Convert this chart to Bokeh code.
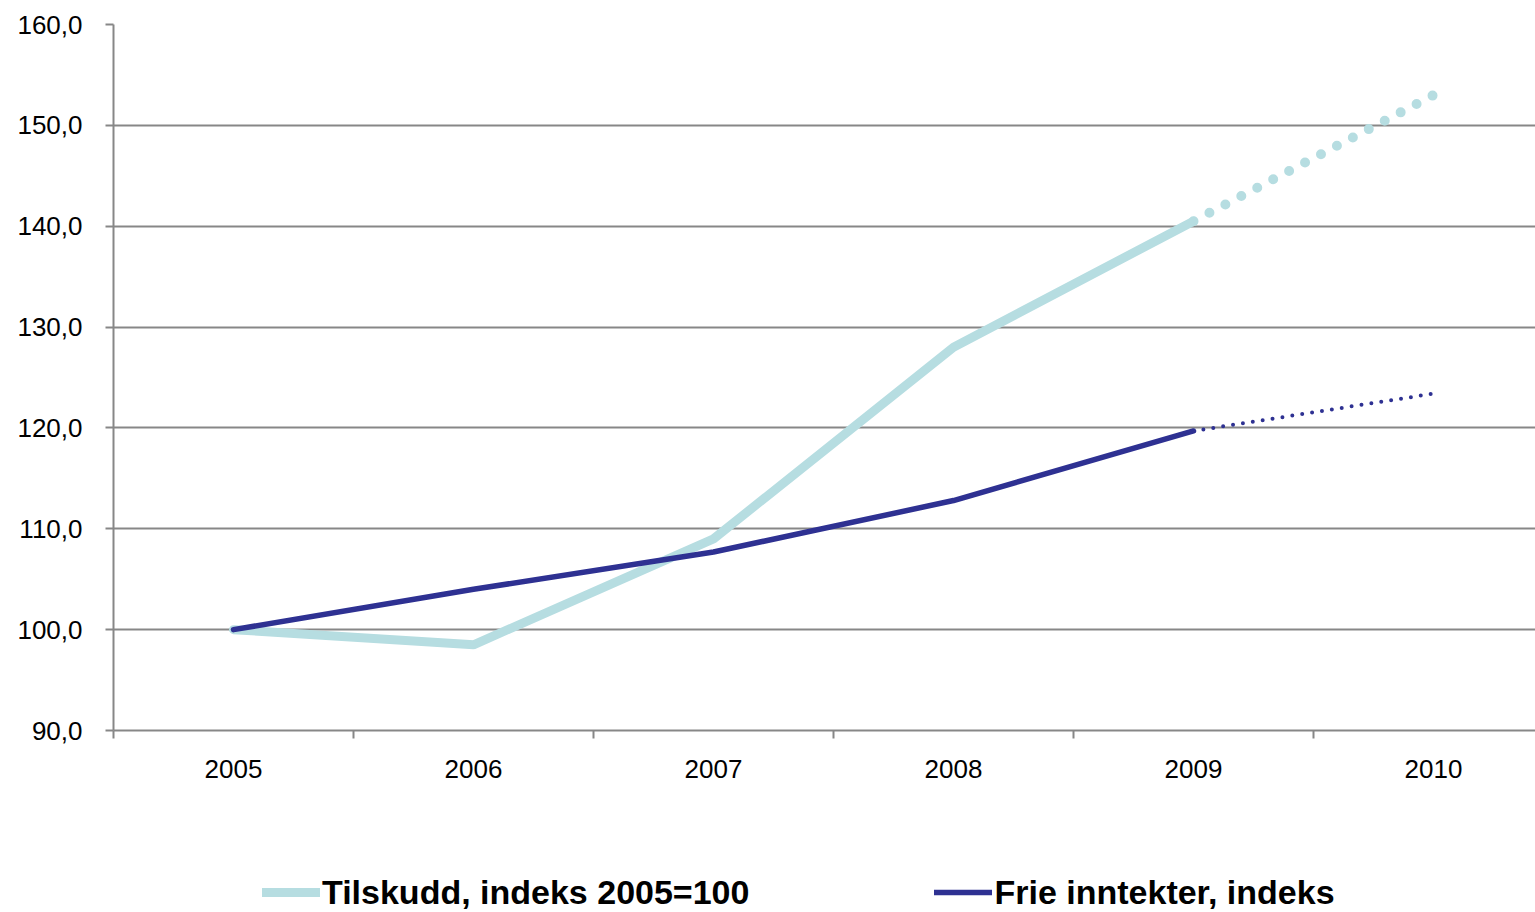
from bokeh.plotting import figure
from bokeh.models import Range1d, FixedTicker, Legend, LegendItem, ColumnDataSource
from bokeh.layouts import column
from bokeh.embed import file_html
from bokeh.resources import INLINE

# ---- data ----
years = [2005, 2006, 2007, 2008, 2009, 2010]
tilskudd = [100.0, 98.5, 109.0, 128.0, 140.5, 153.0]
frie = [100.0, 104.0, 107.7, 112.8, 119.7, 123.4]
n_actual = 5  # 2005-2009 solid, 2009-2010 dotted (projection)
y_ticks = [90, 100, 110, 120, 130, 140, 150, 160]
label_tilskudd = "Tilskudd, indeks 2005=100"
label_frie = "Frie inntekter, indeks"

TEAL = "#B6DDE1"
BLUE = "#2E3192"
GRID = "#878787"
FONT = "Liberation Sans"

src_t = ColumnDataSource(dict(x=years[:n_actual], y=tilskudd[:n_actual]))
src_tp = ColumnDataSource(dict(x=years[n_actual - 1:], y=tilskudd[n_actual - 1:]))
src_f = ColumnDataSource(dict(x=years[:n_actual], y=frie[:n_actual]))
src_fp = ColumnDataSource(dict(x=years[n_actual - 1:], y=frie[n_actual - 1:]))

t_solid = dict(line_color=TEAL, line_width=9, line_cap="round")
f_solid = dict(line_color=BLUE, line_width=5.5, line_cap="round")

# ---- main chart ----
p = figure(width=1535, height=790,
           x_range=Range1d(2004.5, 2010.425), y_range=Range1d(90, 160),
           output_backend="svg", toolbar_location=None,
           min_border_left=113, min_border_right=0,
           min_border_top=24, min_border_bottom=60)
p.outline_line_color = None
p.background_fill_color = "white"

p.line("x", "y", source=src_t, **t_solid)
p.line("x", "y", source=src_tp, line_color=TEAL, line_width=10, line_cap="round", line_dash="0 18")
p.line("x", "y", source=src_f, **f_solid)
p.line("x", "y", source=src_fp, line_color=BLUE, line_width=4, line_cap="round", line_dash="0 10")

# x axis
xa = p.xaxis[0]
xa.ticker = FixedTicker(ticks=years, minor_ticks=[y - 0.5 for y in years])
xa.major_tick_out = 0
xa.major_tick_in = 0
xa.minor_tick_out = 8
xa.minor_tick_in = 0
xa.minor_tick_line_color = GRID
xa.minor_tick_line_width = 2
xa.axis_line_color = GRID
xa.axis_line_width = 2
xa.major_label_standoff = 21
xa.major_label_text_font = FONT
xa.major_label_text_font_size = "26px"
xa.major_label_text_color = "black"

# y axis
ya = p.yaxis[0]
ya.ticker = FixedTicker(ticks=y_ticks, minor_ticks=[])
ya.major_label_overrides = {t: f"{t:.1f}".replace(".", ",") for t in y_ticks}
ya.major_tick_out = 8
ya.major_tick_in = 0
ya.major_tick_line_color = GRID
ya.major_tick_line_width = 2
ya.minor_tick_out = 0
ya.minor_tick_in = 0
ya.axis_line_color = GRID
ya.axis_line_width = 2
ya.major_label_standoff = 23
ya.major_label_text_font = FONT
ya.major_label_text_font_size = "26px"
ya.major_label_text_color = "black"

p.xgrid.visible = False
p.ygrid.grid_line_color = GRID
p.ygrid.grid_line_width = 2

# ---- legend strip (same series; its view range keeps the lines out of sight) ----
lg = figure(width=1535, height=122, x_range=Range1d(0, 1), y_range=Range1d(0, 1),
            output_backend="svg", toolbar_location=None,
            x_axis_location=None, y_axis_location=None,
            min_border_left=0, min_border_right=0, min_border_top=0, min_border_bottom=0)
lg.outline_line_color = None
lg.grid.visible = False
lr_t = lg.line("x", "y", source=src_t, **t_solid)
lr_f = lg.line("x", "y", source=src_f, **f_solid)

legend = Legend(items=[LegendItem(label=label_tilskudd, renderers=[lr_t]),
                       LegendItem(label=label_frie, renderers=[lr_f])],
                orientation="horizontal", location=(149, 0),
                padding=0, margin=0, spacing=185,
                glyph_width=58, glyph_height=40, label_height=40,
                label_standoff=2,
                label_text_font=FONT, label_text_font_size="34px",
                label_text_font_style="bold", label_text_color="black",
                border_line_color=None, background_fill_alpha=0)
lg.add_layout(legend, "center")

layout = column(p, lg, spacing=0)
open("out.html", "w").write(file_html(layout, INLINE))
